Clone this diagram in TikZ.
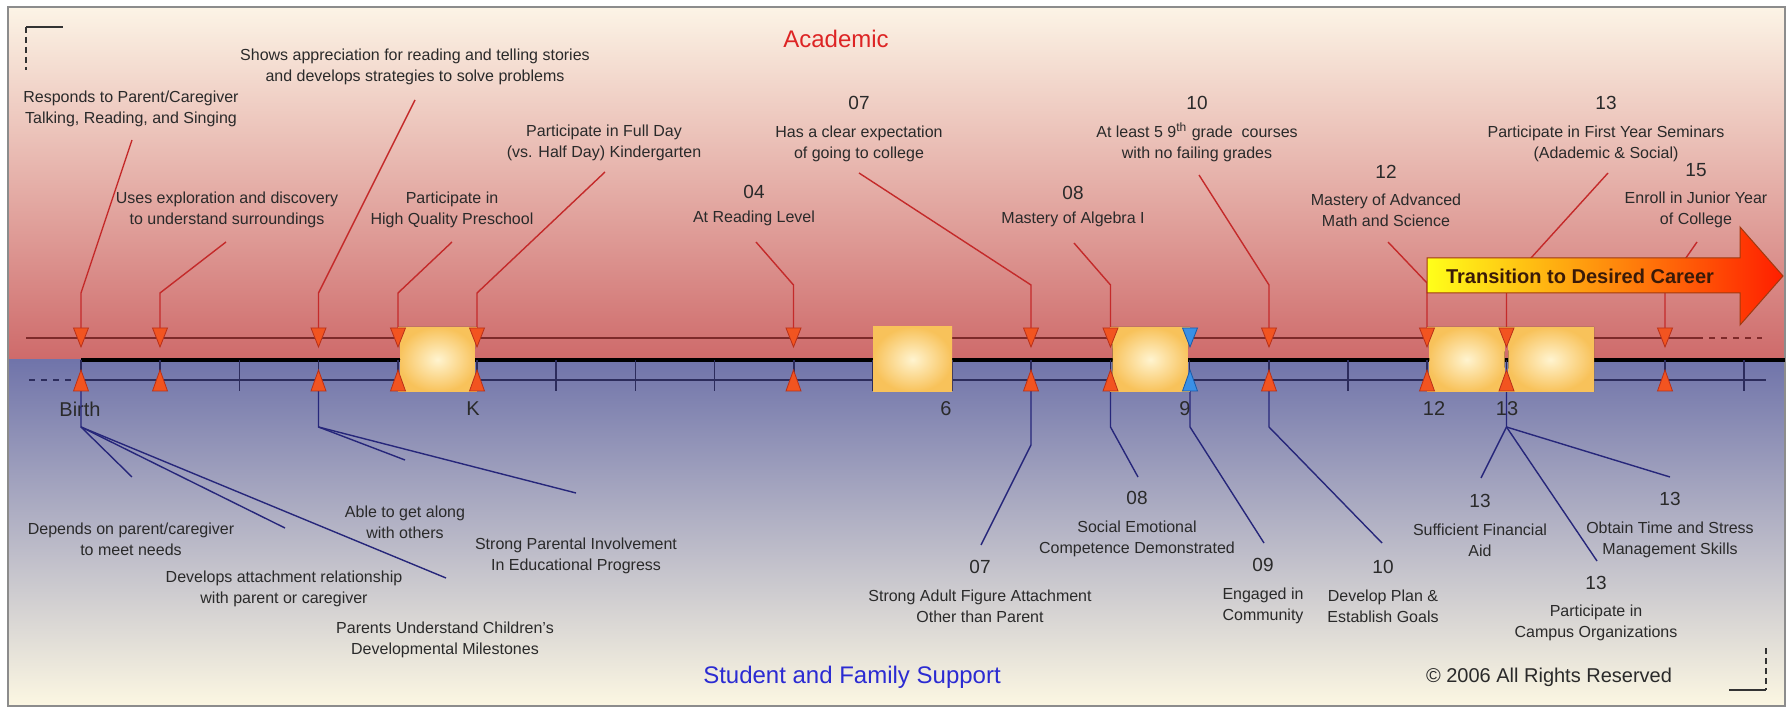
\documentclass[tikz,border=0pt]{standalone}
\usepackage{fontspec}
\setmainfont{Liberation Sans}
\usetikzlibrary{calc}
\definecolor{redTop}{HTML}{FCF4E6}
\definecolor{redBot}{HTML}{CE6A6A}
\definecolor{blueTop}{HTML}{7074AA}
\definecolor{blueBot}{HTML}{FCF7E2}
\definecolor{frameC}{HTML}{8C8C8C}
\definecolor{upC}{HTML}{7E2A2A}
\definecolor{lowC}{HTML}{2C2C5C}
\definecolor{rC}{HTML}{C42A2A}
\definecolor{bC}{HTML}{26267A}
\definecolor{txtC}{HTML}{2A2A2A}
\definecolor{triR}{HTML}{F25420}
\definecolor{triRE}{HTML}{B83018}
\definecolor{triB}{HTML}{3A90E6}
\definecolor{triBE}{HTML}{1A5AA8}
\definecolor{boxIn}{HTML}{FFF4D0}
\definecolor{boxOut}{HTML}{F8C25A}
\definecolor{acadC}{HTML}{DD2424}
\definecolor{supC}{HTML}{2B2BD2}
\definecolor{arY}{HTML}{FFFF1A}
\definecolor{arO}{HTML}{FF9C00}
\definecolor{arR}{HTML}{FF1E00}
\definecolor{arE}{HTML}{A03A10}
\definecolor{arT}{HTML}{3A1A08}
\newcommand\numtxt[1]{{\fontsize{9.5}{10.5}\selectfont #1}}
\begin{document}
\begin{tikzpicture}[x=0.5pt,y=-0.5pt,
  lbl/.style={font=\fontsize{8}{10.5}\selectfont, align=center, inner sep=0pt, text=txtC},
  tlbl/.style={font=\fontsize{10}{12}\selectfont, inner sep=0pt, text=txtC},
  rline/.style={draw=rC, line width=0.7pt},
  bline/.style={draw=bC, line width=0.7pt},
  boxsh/.style={inner color=boxIn, outer color=boxOut},
  redtri/.style={fill=triR, draw=triRE, line width=0.4pt},
  bluetri/.style={fill=triB, draw=triBE, line width=0.4pt},
  tickline/.style={draw=lowC, line width=0.8pt},
  pics/dtri/.style={code={\path[pic actions] (-7.5,-10) -- (7.5,-10) -- (0,9) -- cycle;}},
  pics/utri/.style={code={\path[pic actions] (0,-10) -- (7.5,11) -- (-7.5,11) -- cycle;}}
]
\useasboundingbox (0,0) rectangle (1790,710);
\fill[white] (0,0) rectangle (1790,710);
% backgrounds
\fill[top color=redTop, bottom color=redBot] (8,7) rectangle (1785,360);
\fill[top color=blueTop, bottom color=blueBot] (8,360) rectangle (1785,706);
\draw[frameC, line width=0.6pt] (8,7) rectangle (1785,706);
% corner marks
\draw[black!80, line width=0.7pt] (26,27) -- (63,27);
\draw[black!80, line width=0.7pt, dash pattern=on 3pt off 2pt] (26,27) -- (26,70);
\draw[black!80, line width=0.7pt] (1729,690) -- (1766,690);
\draw[black!80, line width=0.7pt, dash pattern=on 3pt off 2pt] (1766,648) -- (1766,690);
% timeline lines
\draw[upC, line width=1.3pt] (26,338) -- (1697,338);
\draw[upC, line width=1.3pt, dashed] (1697,338) -- (1762,338);
\draw[black, line width=2pt] (81,360) -- (1785,360);
\draw[lowC, line width=1.3pt, dashed] (29,380) -- (73,380);
\draw[lowC, line width=1.3pt] (81,380) -- (1766,380);
\foreach \k in {0,...,21} \draw[tickline] ({81+79.19*\k},360) -- ({81+79.19*\k},391);
% marker coordinates
\foreach \x/\n in {81/1,160/2,318.5/3,398/4,477/5,793.5/6,1031/7,1110.5/8,1190/9,1269/10,1427/11,1506.5/12,1665/13}{
  \coordinate (mt\n) at (\x,328);
  \coordinate (mb\n) at (\x,391);
}
% timeline labels
\node[tlbl] (labBirth) at (80,409) {Birth};
\node[tlbl] (labK) at (473,409) {K};
\node[tlbl] (lab6) at (946,409) {6};
\node[tlbl] (lab9) at (1185,409) {9};
\node[tlbl] (lab12) at (1434,409) {12};
\node[tlbl] (lab13) at (1507,409) {13};
% free ends of connectors
\coordinate (ea) at (132,140);
\coordinate (eb) at (415,100);
\coordinate (ec) at (226,242);
\coordinate (ed) at (452,242);
\coordinate (ee) at (605,172);
\coordinate (ef) at (756,242);
\coordinate (eg) at (859,173);
\coordinate (eh) at (1074,243);
\coordinate (ei) at (1199,175);
\coordinate (ej) at (1388,242);
\coordinate (ek) at (1608,173);
\coordinate (el) at (1697,242);
\coordinate (eB1) at (132,477);
\coordinate (eB2) at (285,528);
\coordinate (eB3) at (446,578);
\coordinate (eB4) at (405,460);
\coordinate (eB5) at (576,493);
\coordinate (eB6) at (981,545);
\coordinate (eB7) at (1138,477);
\coordinate (eB8) at (1264,543);
\coordinate (eB9) at (1382,543);
\coordinate (eB10) at (1481,478);
\coordinate (eB11) at (1597,561);
\coordinate (eB12) at (1670,477);
% red connectors
\draw[rline] (ea) -- ($(mt1)+(0,-35)$) -- (mt1);
\draw[rline] (ec) -- ($(mt2)+(0,-35)$) -- (mt2);
\draw[rline] (eb) -- ($(mt3)+(0,-35)$) -- (mt3);
\draw[rline] (ed) -- ($(mt4)+(0,-35)$) -- (mt4);
\draw[rline] (ee) -- ($(mt5)+(0,-35)$) -- (mt5);
\draw[rline] (ef) -- ($(mt6)+(0,-43)$) -- (mt6);
\draw[rline] (eg) -- ($(mt7)+(0,-43)$) -- (mt7);
\draw[rline] (eh) -- ($(mt8)+(0,-43)$) -- (mt8);
\draw[rline] (ei) -- ($(mt10)+(0,-43)$) -- (mt10);
\draw[rline] (ej) -- ($(mt11)+(0,-45)$) -- (mt11);
\draw[rline] (ek) -- ($(mt12)+(0,-43)$) -- (mt12);
\draw[rline] (el) -- ($(mt13)+(0,-40)$) -- (mt13);
% blue connectors
\draw[bline] (mb1) -- ++(0,36) coordinate (h1) -- (eB1);
\draw[bline] (h1) -- (eB2);
\draw[bline] (h1) -- (eB3);
\draw[bline] (mb3) -- ++(0,36) coordinate (h3) -- (eB4);
\draw[bline] (h3) -- (eB5);
\draw[bline] (mb7) -- ++(0,54) -- (eB6);
\draw[bline] (mb8) -- ++(0,36) -- (eB7);
\draw[bline] (mb9) -- ++(0,36) -- (eB8);
\draw[bline] (mb10) -- ++(0,36) -- (eB9);
\draw[bline] (mb12) -- ++(0,36) coordinate (h12) -- (eB10);
\draw[bline] (h12) -- (eB11);
\draw[bline] (h12) -- (eB12);
% boxes (sides next to markers bow slightly inward)
\fill[boxsh] (398,327) -- (477,327) .. controls (474,347) and (474,372) .. (477,392)
  -- (398,392) .. controls (401,372) and (401,347) .. (398,327) -- cycle;
\fill[boxsh] (873,327) rectangle (952,392);
\fill[boxsh] (1110.5,327) -- (1190,327) .. controls (1187,347) and (1187,372) .. (1190,392)
  -- (1110.5,392) .. controls (1113.5,372) and (1113.5,347) .. (1110.5,327) -- cycle;
\fill[boxsh] (1427,327) -- (1506.5,327) .. controls (1504,347) and (1504,372) .. (1506.5,392)
  -- (1427,392) .. controls (1430,372) and (1430,347) .. (1427,327) -- cycle;
\fill[boxsh] (1506.5,327) -- (1594,327) -- (1594,392) -- (1506.5,392)
  .. controls (1509,372) and (1509,347) .. (1506.5,327) -- cycle;
% triangles
\foreach \x in {81,160,318.5,398,477,793.5,1031,1110.5,1269,1427,1506.5,1665}{
  \pic[redtri] at (\x,338) {dtri};
  \pic[redtri] at (\x,380) {utri};
}
\pic[bluetri] at (1190,338) {dtri};
\pic[bluetri] at (1190,380) {utri};
% transition arrow
\path[draw=arE, line width=0.5pt, left color=arY, middle color=arO, right color=arR]
  (1427,258) -- (1740,258) -- (1740,227) -- (1783,276) -- (1740,325) -- (1740,293) -- (1427,293) -- cycle;
\node[font=\bfseries\fontsize{10}{12}\selectfont, text=arT, inner sep=0pt] (trans) at (1580,276) {Transition to Desired Career};
% top labels
\node[lbl] (la) at (131,109) {Responds to Parent/Caregiver\\Talking, Reading, and Singing};
\node[lbl] (lb) at (415,67) {Shows appreciation for reading and telling stories\\and develops strategies to solve problems};
\node[lbl] (lc) at (227,210) {Uses exploration and discovery\\to understand surroundings};
\node[lbl] (ld) at (452,210) {Participate in\\High Quality Preschool};
\node[lbl] (le) at (604,143) {Participate in Full Day\\(vs. Half Day) Kindergarten};
\node[lbl] (lf) at (754,206) {\numtxt{04}\\[1.5pt]At Reading Level};
\node[lbl] (lg) at (859,129) {\numtxt{07}\\[3.5pt]Has a clear expectation\\of going to college};
\node[lbl] (lh) at (1073,207) {\numtxt{08}\\[1.5pt]Mastery of Algebra I};
\node[lbl] (li) at (1197,129) {\numtxt{10}\\[3.5pt]At least 5 9\textsuperscript{th} grade~ courses\\with no failing grades};
\node[lbl] (lj) at (1386,196) {\numtxt{12}\\[3pt]Mastery of Advanced\\Math and Science};
\node[lbl] (lk) at (1606,129) {\numtxt{13}\\[3.5pt]Participate in First Year Seminars\\(Adademic \& Social)};
\node[lbl] (ll) at (1696,196) {\numtxt{15}\\[3pt]Enroll in Junior Year\\of College};
% bottom labels
\node[lbl] (lB1) at (131,539) {Depends on parent/caregiver\\to meet needs};
\node[lbl] (lB2) at (284,589) {Develops attachment relationship\\with parent or caregiver};
\node[lbl] (lB3) at (445,640) {Parents Understand Children's\\Developmental Milestones};
\node[lbl] (lB4) at (405,522) {Able to get along\\with others};
\node[lbl] (lB5) at (576,556) {Strong Parental Involvement\\In Educational Progress};
\node[lbl] (lB6) at (980,591) {\numtxt{07}\\[3.5pt]Strong Adult Figure Attachment\\Other than Parent};
\node[lbl] (lB7) at (1137,524) {\numtxt{08}\\[3.5pt]Social Emotional\\Competence Demonstrated};
\node[lbl] (lB8) at (1263,591) {\numtxt{09}\\[3.5pt]Engaged in\\Community};
\node[lbl] (lB9) at (1383,591) {\numtxt{10}\\[3.5pt]Develop Plan \&\\Establish Goals};
\node[lbl] (lB10) at (1480,525) {\numtxt{13}\\[3.5pt]Sufficient Financial\\Aid};
\node[lbl] (lB11) at (1596,609) {\numtxt{13}\\[3pt]Participate in\\Campus Organizations};
\node[lbl] (lB12) at (1670,525) {\numtxt{13}\\[3.5pt]Obtain Time and Stress\\Management Skills};
% headers
\node[font=\fontsize{12}{14}\selectfont, text=acadC, inner sep=0pt] (acad) at (836,39) {Academic};
\node[font=\fontsize{12}{14}\selectfont, text=supC, inner sep=0pt] (supp) at (852,677) {Student and Family Support};
\node[font=\fontsize{10}{12}\selectfont, text=txtC, inner sep=0pt] (copy) at (1549,677) {\textcopyright{} 2006 All Rights Reserved};
\end{tikzpicture}
\end{document}
